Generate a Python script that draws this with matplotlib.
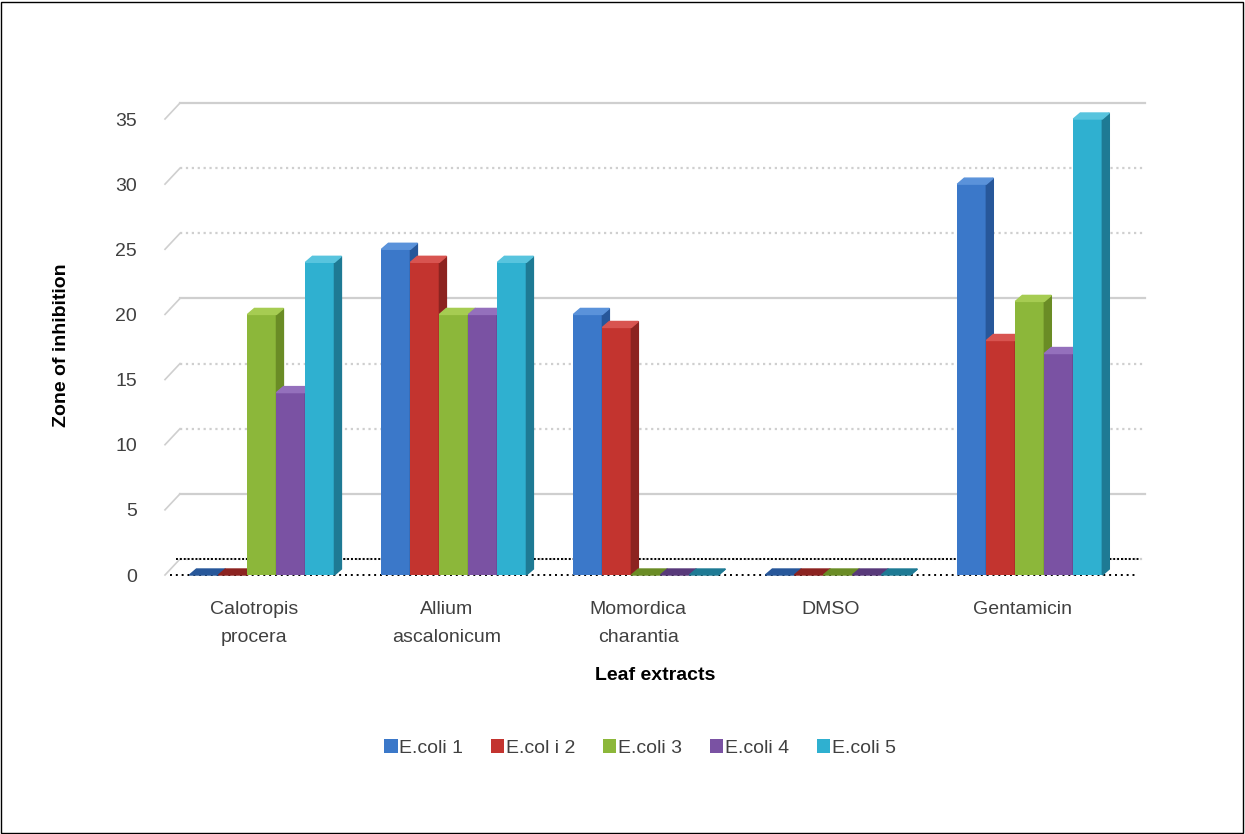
import numpy as np
import matplotlib.pyplot as plt

plt.rcParams['font.family'] = ['Liberation Sans Narrow', 'Liberation Sans', 'DejaVu Sans']

categories = ["Calotropis\nprocera", "Allium\nascalonicum", "Momordica\ncharantia", "DMSO", "Gentamicin"]
series = ["E.coli 1", "E.col i 2", "E.coli 3", "E.coli 4", "E.coli 5"]
ecoli1 = [0, 25, 20, 0, 30]
ecoli2 = [0, 24, 19, 0, 18]
ecoli3 = [20, 20, 0, 0, 21]
ecoli4 = [14, 20, 0, 0, 17]
ecoli5 = [24, 24, 0, 0, 35]
yticks = [0, 5, 10, 15, 20, 25, 30, 35]

front = ["#3B78C9", "#C3342F", "#8CB73A", "#7A52A3", "#2FB0D0"]
side = ["#27579A", "#8C2320", "#6A8C25", "#58397A", "#1E7A94"]
top = ["#5A92DA", "#D85450", "#A6CC52", "#9470BC", "#58C4DE"]

fig = plt.figure(figsize=(12.45, 8.34), dpi=100)
ax = fig.add_axes([165 / 1245, 1 - 575 / 834, 980 / 1245, 456 / 834])
ax.set_xlim(-0.505, 4.6)
ax.set_ylim(0, 35)

# pixel -> data scales
px_x = 5.105 / 980
px_y = 35 / 456

# back wall gridlines (offset for 3D look)
gdx, gdy = 15 * px_x, 16 * px_y
for v in yticks:
    ls = '-' if v % 15 == 5 or v == 35 else ':'
    ax.plot([-0.505, -0.505 + gdx], [v, v + gdy], color="#cfcfcf", lw=1.2, clip_on=False, zorder=1)
    ax.plot([-0.505 + gdx, 4.6], [v + gdy, v + gdy], color="#cfcfcf", lw=1.6, ls=ls, clip_on=False, zorder=1)

# floor
ax.plot([-0.48, 4.55], [0, 0], color="black", lw=1.4, ls=(0, (1, 2)), clip_on=False, zorder=2)
ax.plot([-0.45, 4.57], [gdy, gdy], color="black", lw=1.4, ls=(0, (1, 1)), clip_on=False, zorder=2)

x = np.arange(len(categories))
w = 29 * px_x
ddx, ddy = 7 * px_x, 6 * px_y
data = [ecoli1, ecoli2, ecoli3, ecoli4, ecoli5]
for k, vals in enumerate(data):
    xs = x + (k - 2) * w
    ax.bar(xs, vals, width=w, color=front[k], edgecolor="none", zorder=3 + k, label=series[k])
    for xc, v in zip(xs, vals):
        l, r = xc - w / 2, xc + w / 2
        ax.fill([r, r + ddx, r + ddx, r], [0, ddy, v + ddy, v], color=side[k], zorder=3 + k, clip_on=False)
        ax.fill([l, l + ddx, r + ddx, r], [v, v + ddy, v + ddy, v], color=top[k] if v > 0 else side[k],
                zorder=3 + k, clip_on=False)

for s in ax.spines.values():
    s.set_visible(False)
ax.set_yticks(yticks)
ax.set_yticklabels([str(t) for t in yticks], fontsize=14, color="#404040")
ax.tick_params(axis='y', length=0, pad=20)
ax.set_xticks(x - 0.04)
ax.set_xticklabels(categories, fontsize=14, color="#404040", linespacing=1.8)
ax.tick_params(axis='x', length=0, pad=19)

fig.text(62 / 1245, 1 - 345 / 834, "Zone of inhibition", rotation=90, ha='center', va='center',
         fontsize=14, fontweight='bold', color="black")
fig.text(655 / 1245, 1 - 676 / 834, "Leaf extracts", ha='center', va='center',
         fontsize=14, fontweight='bold', color="black")

leg = fig.legend(loc='center', bbox_to_anchor=(640 / 1245, 1 - 748 / 834), ncol=5, frameon=False,
                 fontsize=14, handlelength=0.7, handleheight=0.7, handletextpad=0.1, columnspacing=1.4)
for t in leg.get_texts():
    t.set_color("#404040")

fig.patches.append(plt.Rectangle((1 / 1245, 1 / 834), 1242 / 1245, 831 / 834, transform=fig.transFigure,
                                 fill=False, edgecolor="black", lw=1))

fig.savefig("out.png", dpi=100)
